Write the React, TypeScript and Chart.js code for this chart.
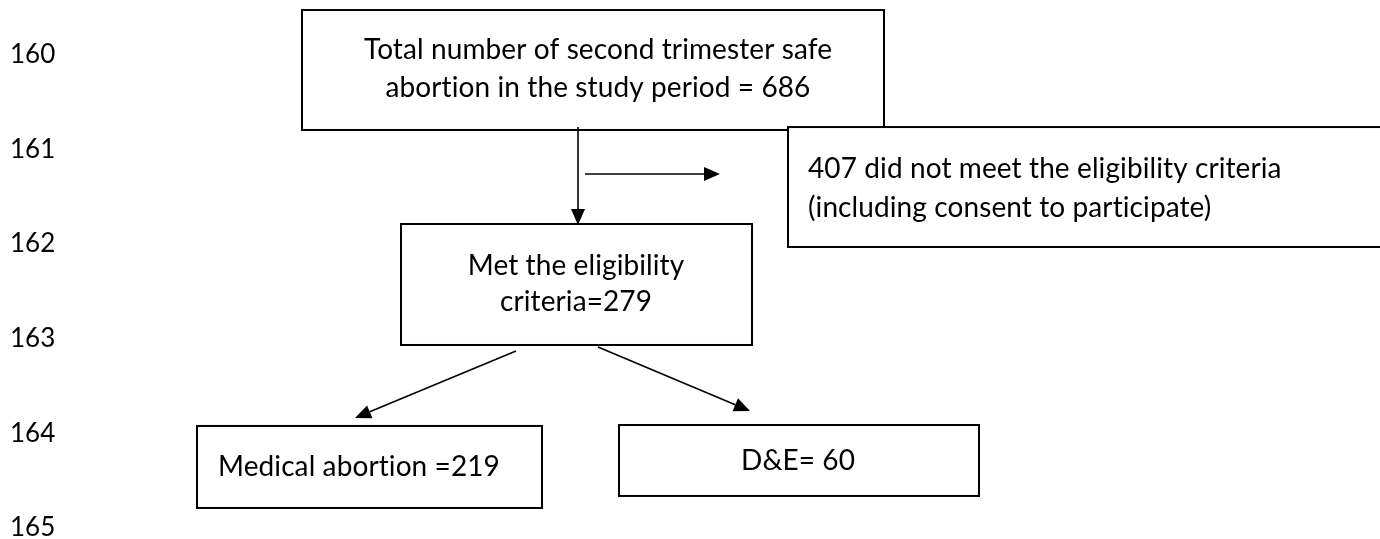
import React, { useEffect, useRef } from "react";
import { Chart, registerables } from "chart.js";

Chart.register(...registerables);

// Line-number ticks shown on the left (y axis)
const lineNumbers = [160, 161, 162, 163, 164, 165];

// Flowchart nodes: text lines and extents in axis units (x: horizontal units, y: line-number units)
const nodeText: string[][] = [
  ["Total number of second trimester safe", "abortion in the study period = 686"],
  ["407 did not meet the eligibility criteria", "(including consent to participate)"],
  ["Met the eligibility", "criteria=279"],
  ["Medical abortion =219"],
  ["D&E= 60"],
];
const nodeX0 = [302, 788, 401, 197, 619];
const nodeX1 = [884, 1384, 752, 542, 979];
const nodeY0 = [159.526, 160.763, 161.788, 163.923, 163.913];
const nodeY1 = [160.794, 162.031, 163.067, 164.79, 164.663];
const nodeAlign = ["center", "left", "center", "left", "center"];
const nodeTextX = [598, 808, 576, 218, 798];
const nodeTextY: number[][] = [
  [159.948, 160.35],
  [161.206, 161.619],
  [162.232, 162.612],
  [164.357],
  [164.293],
];

// Arrows: from (x0, y0) to (x1, y1)
const arrowX0 = [578, 585, 516, 598];
const arrowY0 = [160.763, 161.259, 163.13, 163.088];
const arrowX1 = [578, 720, 355, 750];
const arrowY1 = [161.798, 161.259, 163.839, 163.765];

const FONT = "Lato, 'Liberation Sans', sans-serif";

const flowPlugin = {
  id: "flow",
  afterDatasetsDraw(chart: any) {
    const ctx = chart.ctx;
    const xs = chart.scales.x;
    const ys = chart.scales.y;
    const px = (v: number) => xs.getPixelForValue(v);
    const py = (v: number) => ys.getPixelForValue(v);
    ctx.save();
    // boxes
    ctx.strokeStyle = "#000";
    ctx.lineWidth = 2;
    for (let i = 0; i < nodeText.length; i++) {
      const x0 = px(nodeX0[i]);
      const x1 = px(nodeX1[i]);
      const y0 = py(nodeY0[i]);
      const y1 = py(nodeY1[i]);
      ctx.fillStyle = "#fff";
      ctx.fillRect(x0, y0, x1 - x0, y1 - y0);
      ctx.strokeRect(x0, y0, x1 - x0, y1 - y0);
    }
    // text
    ctx.fillStyle = "#000";
    ctx.font = `28px ${FONT}`;
    ctx.textBaseline = "middle";
    try {
      (ctx as any).letterSpacing = "0.1px";
    } catch (e) {}
    for (let i = 0; i < nodeText.length; i++) {
      ctx.textAlign = nodeAlign[i];
      nodeText[i].forEach((line, j) => {
        ctx.fillText(line, px(nodeTextX[i]), py(nodeTextY[i][j]));
      });
    }
    try {
      (ctx as any).letterSpacing = "0px";
    } catch (e) {}
    // arrows
    ctx.lineWidth = 1.6;
    for (let i = 0; i < arrowX0.length; i++) {
      const x0 = px(arrowX0[i]);
      const y0 = py(arrowY0[i]);
      const x1 = px(arrowX1[i]);
      const y1 = py(arrowY1[i]);
      const ang = Math.atan2(y1 - y0, x1 - x0);
      const hl = 16;
      const hw = 7;
      const bx = x1 - hl * Math.cos(ang);
      const by = y1 - hl * Math.sin(ang);
      ctx.beginPath();
      ctx.moveTo(x0, y0);
      ctx.lineTo(bx, by);
      ctx.stroke();
      ctx.beginPath();
      ctx.moveTo(x1, y1);
      ctx.lineTo(bx + hw * Math.sin(ang), by - hw * Math.cos(ang));
      ctx.lineTo(bx - hw * Math.sin(ang), by + hw * Math.cos(ang));
      ctx.closePath();
      ctx.fill();
    }
    ctx.restore();
  },
};

export default function App() {
  const ref = useRef<HTMLCanvasElement | null>(null);
  useEffect(() => {
    document.body.style.margin = "0";
    document.body.style.background = "#fff";
    if (!ref.current) return;
    const chart = new Chart(ref.current, {
      type: "scatter",
      data: { datasets: [{ data: [], pointRadius: 0 }] },
      options: {
        animation: false,
        responsive: false,
        maintainAspectRatio: false,
        layout: { padding: { left: 10, right: 0, top: 0, bottom: 0 } },
        plugins: { legend: { display: false }, tooltip: { enabled: false } },
        scales: {
          x: { type: "linear", display: false, min: 60, max: 1380 },
          y: {
            type: "linear",
            reverse: true,
            min: 159.42,
            max: 165.118,
            grid: { display: false },
            border: { display: false },
            afterBuildTicks: (s: any) => {
              s.ticks = lineNumbers.map((v) => ({ value: v }));
            },
            afterFit: (s: any) => {
              s.width = 50;
              s.paddingTop = 0;
              s.paddingBottom = 0;
            },
            ticks: {
              crossAlign: "far",
              padding: 0,
              color: "#000",
              font: { family: FONT, size: 26 },
              callback: (v: any) => String(v),
            },
          },
        },
      },
      plugins: [flowPlugin],
    });
    return () => chart.destroy();
  }, []);
  return (
    <div style={{ width: 1380, height: 539, background: "#fff" }}>
      <canvas ref={ref} width={1380} height={539} style={{ display: "block" }} />
    </div>
  );
}
